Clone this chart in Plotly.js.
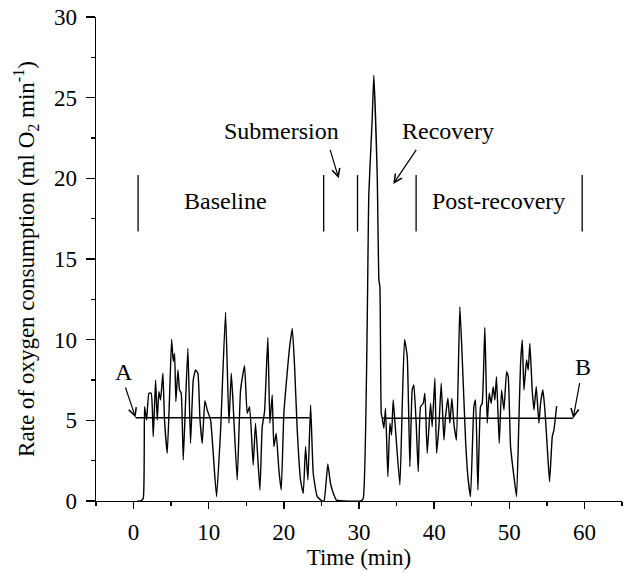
<!DOCTYPE html>
<html>
<head>
<meta charset="utf-8">
<script src="https://cdn.plot.ly/plotly-3.0.1.min.js"></script>
<style>html,body{margin:0;padding:0;background:#fff}#chart{width:624px;height:573px}</style>
</head>
<body>
<div id="chart"></div>
<script>
// Time (min)
const timeMin = [0.5, 0.93, 1.29, 1.46, 1.73, 2.04, 2.35, 2.62, 2.93, 3.15, 3.37, 3.59, 3.90, 4.12, 4.48, 4.79, 5.06, 5.28, 5.46, 5.63, 5.90, 6.12, 6.34, 6.61, 6.92, 7.23, 7.58, 7.94, 8.25, 8.56, 8.83, 9.14, 9.49, 9.80, 10.25, 11.04, 11.58, 12.24, 12.69, 13.00, 13.22, 13.79, 14.24, 14.77, 15.12, 15.44, 15.92, 16.23, 16.81, 17.12, 17.43, 17.87, 18.14, 18.45, 18.67, 18.98, 19.34, 19.65, 20.00, 20.36, 20.72, 21.12, 21.43, 21.78, 22.22, 22.58, 22.89, 23.20, 23.56, 23.91, 24.44, 25.10, 25.35, 25.85, 26.20, 26.57, 27.00, 30.20, 30.56, 31.31, 31.75, 31.97, 32.43, 32.65, 32.78, 32.96, 33.09, 33.31, 33.53, 33.84, 34.11, 34.33, 34.55, 34.86, 35.44, 35.75, 36.06, 36.42, 36.77, 37.08, 37.30, 37.61, 37.88, 38.19, 38.55, 38.77, 39.08, 39.52, 39.74, 40.10, 40.32, 40.63, 40.94, 41.30, 41.52, 41.83, 42.10, 42.36, 42.62, 42.97, 43.42, 43.73, 44.18, 44.49, 44.84, 45.29, 45.51, 45.82, 46.17, 46.40, 46.75, 47.06, 47.33, 47.59, 47.86, 48.08, 48.30, 48.66, 48.97, 49.29, 49.64, 49.86, 50.17, 50.62, 50.97, 51.28, 51.50, 51.73, 51.95, 52.30, 52.52, 52.74, 53.05, 53.28, 53.59, 53.94, 54.16, 54.47, 54.74, 55.05, 55.36, 55.72, 55.94, 56.30];
// Rate of oxygen consumption (ml O2 min-1)
const o2Rate = [0, 0, 0.17, 5.85, 5.02, 6.68, 6.68, 3.99, 7.5, 5.02, 6.78, 6.26, 7.92, 5.02, 2.96, 6.47, 10.02, 8.64, 9.15, 6.16, 8.12, 6.88, 6.68, 2.54, 6.16, 9.47, 3.58, 7.5, 8.12, 7.92, 5.12, 3.58, 6.22, 5.64, 5.02, 0.27, 4.4, 11.7, 4.82, 7.92, 6.26, 1.3, 6.88, 8.39, 5.44, 5.85, 2.23, 4.82, 0.68, 4.61, 5.54, 10.13, 4.82, 6.57, 3.37, 4.2, 1.92, 0.68, 5.44, 7.5, 9.36, 10.7, 8.33, 4.4, 1.3, 0.48, 3.37, 1.3, 5.95, 1.72, 0.27, 0, 0, 2.3, 1.1, 0.5, 0.05, 0, 0.15, 19.07, 23.6, 26.4, 20.1, 13.7, 13.3, 5.43, 5.13, 4.51, 5.75, 1.51, 4.82, 4.09, 6.26, 4.4, 0.99, 5.85, 10.02, 8.95, 2.13, 6.88, 7.19, 4.82, 1.82, 5.85, 6.06, 6.68, 2.96, 6.06, 4.61, 7.61, 2.96, 4.61, 7.3, 3.78, 5.23, 6.37, 4.82, 6.37, 4.82, 3.78, 12.05, 8.95, 3.78, 1.51, 0.27, 5.85, 6.26, 0.68, 5.85, 6.06, 10.77, 4.82, 6.68, 6.06, 7.09, 6.26, 7.71, 3.58, 6.88, 5.64, 8.02, 7.71, 3.37, 1.51, 0.27, 5.02, 8.53, 9.98, 6.88, 8.74, 8.12, 9.77, 6.88, 5.64, 7.09, 4.82, 6.06, 6.88, 5.64, 3.37, 1.2, 3.99, 4.4, 5.89];

// Mean lines (A = baseline mean, B = post-recovery mean)
const meanA_time = [0.27, 23.4];
const meanA_value = [5.16, 5.16];
const meanB_time = [33.1, 58.5];
const meanB_value = [5.13, 5.13];

// Phase boundaries (min) and marker span (ml O2 min-1)
const phaseBoundaries = [0.6, 25.3, 29.8, 37.6, 59.7];
const phaseMarkerSpan = [16.7, 20.2];

// Labels
const phaseLabels = ['Baseline', 'Post-recovery'];
const eventLabels = ['Submersion', 'Recovery'];
const pointLabels = ['A', 'B'];

const xTickVals = [0, 10, 20, 30, 40, 50, 60];
const yTickVals = [0, 5, 10, 15, 20, 25, 30];

const FONT = 'Liberation Serif';
const FS = 23;   // tick labels and axis titles
const FA = 24;   // annotations

// build phase markers trace
const pmX = [], pmY = [];
phaseBoundaries.forEach(b => { pmX.push(b, b, null); pmY.push(phaseMarkerSpan[0], phaseMarkerSpan[1], null); });

const traces = [
  {x: timeMin, y: o2Rate, mode: 'lines', line: {color: '#000', width: 1.4, shape: 'spline', smoothing: 0.4}, hoverinfo: 'skip'},
  {x: meanA_time, y: meanA_value, mode: 'lines', line: {color: '#000', width: 1.3}, hoverinfo: 'skip'},
  {x: meanB_time, y: meanB_value, mode: 'lines', line: {color: '#000', width: 1.3}, hoverinfo: 'skip'},
  {x: pmX, y: pmY, mode: 'lines', line: {color: '#000', width: 1.3}, hoverinfo: 'skip'}
];

function txt(text, x, y) {
  return {text: text, x: x, y: y, xref: 'x', yref: 'y', showarrow: false, xanchor: 'center', yanchor: 'middle',
    font: {family: FONT, size: FA, color: '#000'}};
}
function arr(x, y, ax, ay) {
  return {text: '', x: x, y: y, ax: ax, ay: ay, xref: 'x', yref: 'y', axref: 'x', ayref: 'y', showarrow: true,
    arrowhead: 5, arrowsize: 1.3, arrowwidth: 1.2, arrowcolor: '#000', standoff: 0, startstandoff: 0,
    font: {size: 1}};
}

const annotations = [
  txt(phaseLabels[0], 12.18, 18.6),
  txt(phaseLabels[1], 48.6, 18.6),
  txt(eventLabels[0], 19.69, 22.94),
  txt(eventLabels[1], 41.9, 22.94),
  txt(pointLabels[0], -1.3, 8.0),
  txt(pointLabels[1], 59.75, 8.3),
  arr(0.27, 5.17, -1.15, 7.13),
  arr(58.5, 5.13, 59.4, 7.4),
  arr(27.3, 20.0, 26.1, 21.86),
  arr(34.56, 19.65, 37.75, 21.86)
];

const layout = {
  width: 624, height: 573,
  margin: {l: 96, r: 2, t: 17, b: 72},
  paper_bgcolor: '#fff', plot_bgcolor: '#fff',
  showlegend: false,
  font: {family: FONT, size: FS, color: '#000'},
  xaxis: {
    range: [-5, 65], showgrid: false, zeroline: false,
    showline: true, linecolor: '#000', linewidth: 1.3,
    ticks: 'outside', ticklen: 7, tickwidth: 1.3, tickcolor: '#000',
    tickvals: xTickVals, ticklabelstandoff: 3,
    minor: {dtick: 5, tick0: 0, ticks: 'outside', ticklen: 4, tickwidth: 1.3, tickcolor: '#000', showgrid: false},
    tickfont: {family: FONT, size: FS, color: '#000'},
    title: {text: 'Time (min)', font: {family: FONT, size: FS, color: '#000'}, standoff: 5}
  },
  yaxis: {
    range: [0, 30], showgrid: false, zeroline: false,
    showline: true, linecolor: '#000', linewidth: 1.3,
    ticks: 'outside', ticklen: 9, tickwidth: 1.3, tickcolor: '#000',
    tickvals: yTickVals, ticklabelstandoff: 4,
    minor: {dtick: 2.5, tick0: 0, ticks: 'outside', ticklen: 4, tickwidth: 1.3, tickcolor: '#000', showgrid: false},
    tickfont: {family: FONT, size: FS, color: '#000'},
    title: {text: 'Rate of oxygen consumption (ml O<sub>2</sub> min<sup>-1</sup>)', font: {family: FONT, size: FS, color: '#000'}, standoff: 13}
  },
  annotations: annotations
};

Plotly.newPlot('chart', traces, layout, {staticPlot: true, displayModeBar: false});
</script>
</body>
</html>
